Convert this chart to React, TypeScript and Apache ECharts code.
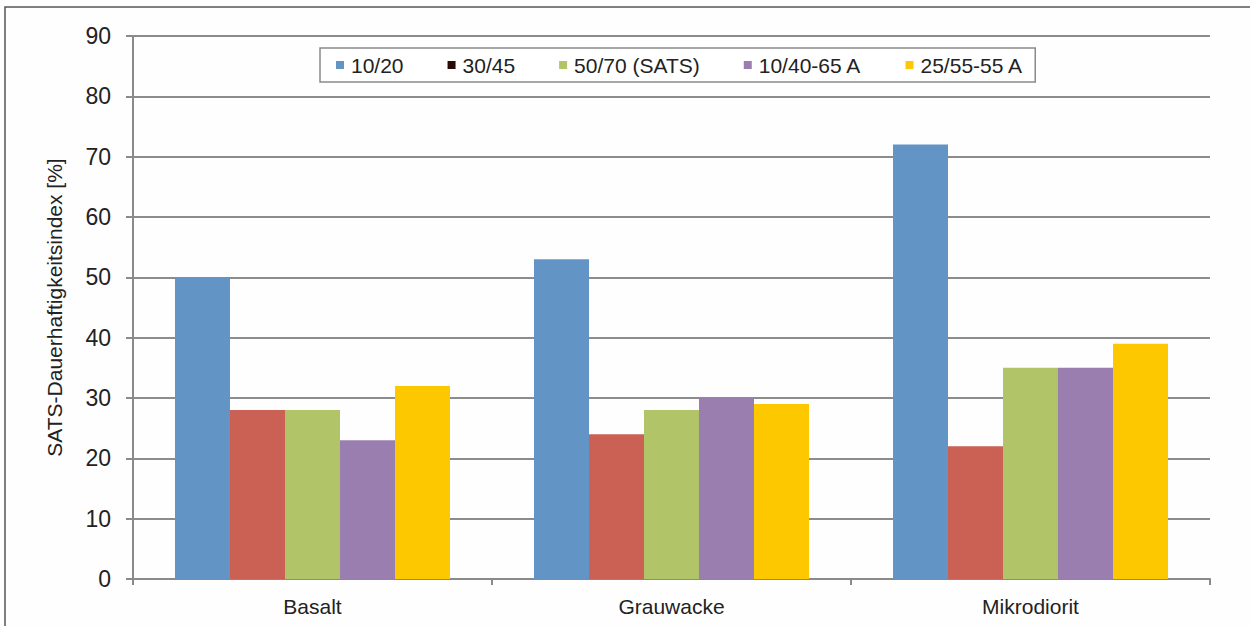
import React, { useEffect, useRef } from "react";
import * as echarts from "echarts";

const categories = ["Basalt", "Grauwacke", "Mikrodiorit"];
const seriesNames = ["10/20", "30/45", "50/70 (SATS)", "10/40-65 A", "25/55-55 A"];
const s1020 = [50, 53, 72];
const s3045 = [28, 24, 22];
const s5070 = [28, 28, 35];
const s1040 = [23, 30, 35];
const s2555 = [32, 29, 39];
const yTicks = [0, 10, 20, 30, 40, 50, 60, 70, 80, 90];

const barColors = ["#6394C6", "#CB6155", "#B1C467", "#9A7EB0", "#FDC800"];
const legendColors = ["#6394C6", "#2A0A06", "#B1C467", "#9A7EB0", "#FDC800"];
const FONT = "Liberation Sans, Arial, sans-serif";

export default function App() {
  const ref = useRef<HTMLDivElement>(null);
  useEffect(() => {
    const chart = echarts.init(ref.current!, null, { renderer: "svg" });
    const values = [s1020, s3045, s5070, s1040, s2555];
    chart.setOption({
      animation: false,
      backgroundColor: "#fefefe",
      textStyle: { fontFamily: FONT },
      grid: { left: 133, right: 40, top: 36, bottom: 47, containLabel: false },
      graphic: [
        {
          type: "rect",
          shape: { x: 5, y: 7, width: 1400, height: 800 },
          style: { fill: "none", stroke: "#555", lineWidth: 1.5 },
          silent: true,
          z: 100,
        },
      ],
      legend: {
        left: 320,
        top: 48,
        padding: [6, 12, 6, 16],
        backgroundColor: "#ffffff",
        borderColor: "#8a8a8a",
        borderWidth: 1.5,
        borderRadius: 0,
        itemWidth: 8,
        itemHeight: 8,
        itemGap: 44,
        icon: "rect",
        textStyle: {
          fontFamily: FONT,
          fontSize: 21,
          lineHeight: 22,
          color: "#222",
          padding: [0, 0, 0, 2],
        },
        data: seriesNames.map((n, i) => ({ name: n, itemStyle: { color: legendColors[i] } })),
        z: 10,
      },
      xAxis: {
        type: "category",
        data: categories,
        axisLine: { show: true, lineStyle: { color: "#8a8a8a", width: 2 } },
        axisTick: { show: true, length: 6, lineStyle: { color: "#8a8a8a", width: 2 } },
        axisLabel: { fontFamily: FONT, fontSize: 21, color: "#222", margin: 17 },
      },
      yAxis: {
        type: "value",
        min: yTicks[0],
        max: yTicks[yTicks.length - 1],
        interval: 10,
        name: "SATS-Dauerhaftigkeitsindex [%]",
        nameLocation: "middle",
        nameGap: 68,
        nameTextStyle: { fontFamily: FONT, fontSize: 21, color: "#222" },
        axisLine: { show: true, lineStyle: { color: "#8a8a8a", width: 2 } },
        axisTick: { show: true, length: 7, lineStyle: { color: "#8a8a8a", width: 2 } },
        axisLabel: { fontFamily: FONT, fontSize: 23, color: "#222", margin: 22 },
        splitLine: { show: true, lineStyle: { color: "#8c8c8c", width: 2 } },
      },
      series: seriesNames.map((n, i) => ({
        name: n,
        type: "bar",
        data: values[i],
        barGap: "0%",
        barCategoryGap: "23.4%",
        itemStyle: { color: barColors[i] },
      })),
    });
    return () => chart.dispose();
  }, []);
  return (
    <div
      ref={ref}
      style={{ position: "fixed", left: 0, top: 0, width: 1250, height: 626 }}
    />
  );
}
